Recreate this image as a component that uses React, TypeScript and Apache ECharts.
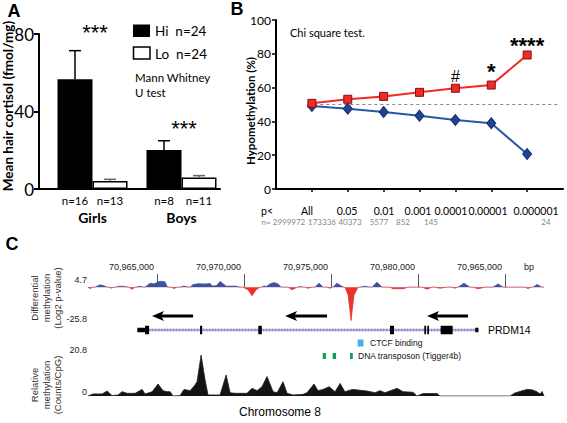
import React, { useEffect, useRef } from "react";
import * as echarts from "echarts";

// ---------------- Panel A data ----------------
const groups = ["Girls", "Boys"];
const hiMean = [56.6, 20.1];
const hiUpper = [71.4, 24.9];
const loMean = [4.1, 6.0];
const loUpper = [5.0, 6.9];
const hiN = ["n=16", "n=8"];
const loN = ["n=13", "n=11"];
const legendLabels = ["Hi  n=24", "Lo  n=24"];
const aSig = ["***", "***"];
const aTest = "Mann Whitney\nU test";
const aYTitle = "Mean hair cortisol (fmol/mg)";

// ---------------- Panel B data ----------------
const pThresholds = ["All", "0.05", "0.01", "0.001", "0.0001", "0.00001", "0.000001"];
const nCounts = ["2999972", "173336", "40373", "5577", "852", "145", "24"];
const hypoUp = [50.7, 53.1, 54.8, 57.2, 59.6, 61.5, 79.3];
const hypoDown = [49.1, 47.5, 45.6, 43.4, 40.8, 38.9, 20.7];
const sigMarks = ["", "", "", "", "#", "*", "****"];
const chanceLine: [number, number][] = [[0.9, 50], [7.9, 50]];
const bYTitle = "Hypomethylation (%)";
const bTest = "Chi square test.";

// ---------------- Panel C data (x in kb after 70,960,000) ----------------
const trackStart = 1.03;
const trackEnd = 27.24;
const coordTicks = [5, 10, 15, 20, 25];
const coordLabels = ["70,965,000", "70,970,000", "70,975,000", "70,980,000", "70,965,000"];
const diffLimits = [-25.8, 4.7];
const relLimits = [0, 20.8];
const diffTrack: [number, number][] = [
  [1.03, 0], [1.15, -1.0], [1.32, 0],
  [1.44, 0], [1.72, 1.8], [1.95, 1.0], [2.13, 0],
  [2.24, 0], [2.36, -0.8], [2.53, 0],
  [2.59, 0], [2.87, 0.7], [3.1, 0.6], [3.33, 0],
  [3.39, 0], [3.56, -1.5], [3.74, 0],
  [3.79, 0], [4.02, 0.7], [4.2, 0],
  [4.31, 0], [4.6, 3.0], [4.83, 2.5], [5.06, 4.0], [5.23, 4.6], [5.46, 4.0], [5.57, 0.5], [5.63, 0],
  [5.8, 0], [5.98, -1.0], [6.15, 0],
  [6.32, 0], [6.55, 0.8], [6.78, 0],
  [6.9, 0], [7.07, 2.0], [7.36, 2.6], [7.76, 2.4], [8.05, 2.8], [8.16, 1.0], [8.28, 0.8],
  [8.45, 1.5], [8.62, 4.4], [8.85, 2.0], [8.97, 0.7], [9.48, 0.8], [9.77, 0],
  [9.94, 0], [10.23, -2.0], [10.46, -6.6], [10.69, -2.0], [10.92, 0],
  [11.03, 0], [11.15, 1.0], [11.26, 0.3], [11.49, 2.5], [11.72, 3.5], [11.95, 2.5], [12.13, 0],
  [12.53, 0], [12.76, -2.0], [13.05, 0],
  [13.1, 0], [13.22, 0.5], [13.39, 0],
  [13.51, 0], [13.68, -0.8], [13.91, 0],
  [14.08, 0], [14.31, 3.0], [14.54, 0],
  [14.77, 0], [14.94, -0.8], [15.06, 0],
  [15.11, 0], [15.34, 3.0], [15.63, 0.5], [15.75, 0],
  [15.8, 0], [15.98, -6.0], [16.09, -18.0], [16.15, -25.5], [16.21, -18.0], [16.32, -6.0], [16.55, 0],
  [16.67, 0], [16.95, 0.7], [17.24, 0],
  [17.36, 0], [17.64, 3.8], [17.93, 0],
  [18.39, 0], [18.56, -1.2], [19.2, -1.2], [19.37, 0],
  [20.23, 0], [20.52, -1.5], [20.8, 0],
  [20.98, 0], [21.26, -0.8], [21.67, 0],
  [21.95, 0], [22.13, -0.8], [22.24, 0],
  [22.3, 0], [22.64, 3.0], [22.99, 0],
  [23.16, 0], [23.45, -1.2], [23.85, 0],
  [24.31, 0], [24.6, 2.5], [24.89, 0],
  [26.15, 0], [26.32, -1.0], [26.49, 0],
  [26.61, 0], [26.84, 2.0], [27.13, 0], [27.24, 0],
];
const relTrack: [number, number][] = [
  [1.03, 0], [1.32, 1.0], [1.84, 1.0], [2.13, 2.4], [2.41, 0.2], [2.76, 0.5], [2.99, 2.1],
  [3.28, 1.3], [3.74, 1.3], [4.14, 3.2], [4.31, 1.0], [4.71, 2.0], [5.06, 5.8], [5.34, 2.6],
  [5.57, 2.1], [5.75, 2.1], [5.92, 0], [6.32, 0.2], [6.55, 3.2], [6.9, 2.6], [7.18, 5.3],
  [7.3, 7.0], [7.53, 19.8], [7.76, 7.7], [7.93, 0.5], [8.62, 0.5], [8.97, 10.2], [9.2, 1.6],
  [9.48, 1.3], [10.17, 1.3], [10.46, 3.7], [10.75, 2.6], [11.03, 4.5], [11.32, 9.4],
  [11.67, 2.1], [11.9, 1.6], [12.24, 6.9], [12.47, 1.3], [12.82, 0.5], [13.39, 0.8],
  [13.62, 1.6], [14.02, 5.8], [14.25, 2.6], [14.54, 3.2], [14.89, 4.5], [15.23, 2.1],
  [15.52, 6.1], [15.8, 2.0], [15.98, 2.6], [16.26, 3.2], [17.07, 2.4], [17.53, 1.6],
  [17.82, 2.6], [18.1, 1.6], [18.79, 3.7], [19.14, 2.1], [19.71, 1.8], [19.94, 0],
  [20.29, 1.2], [21.09, 1.2], [21.26, 0], [25.29, 0], [25.57, 1.5], [25.98, 2.5],
  [26.26, 3.2], [26.55, 3.0], [26.84, 2.0], [27.01, 1.0], [27.13, 2.2], [27.24, 0],
];
const geneSpan = [3.87, 23.47];
const utrBlocks = [[3.87, 4.31], [23.29, 23.47]];
const cdsBlocks = [[4.31, 4.54], [7.47, 7.59], [10.82, 11.02], [18.39, 18.62], [20.36, 20.46], [20.53, 20.63], [21.3, 21.99]];
const arrowSpans = [[4.71, 7.07], [12.36, 14.77], [20.52, 22.87]];
const ctcfSites = [[16.53, 16.86]];
const transposons = [[14.52, 14.71], [15.09, 15.29], [16.09, 16.25]];
const geneName = "PRDM14";
const ctcfLabel = "CTCF binding";
const tposLabel = "DNA transposon (Tigger4b)";
const diffTitle = "Differential\nmethylation\n(Log2 p-value)";
const relTitle = "Relative\nmethylation\n(Counts/CpG)";
const chromLabel = "Chromosome 8";

const FA = "Lato, 'Noto Sans', sans-serif";
const FC = "'Liberation Sans', Arial, sans-serif";

// annotation rows (px below annotation grid top)
const ROW_ARROW = 11;
const ROW_GENE = 25;
const ROW_CTCF = 38;
const ROW_TPOS = 51;

function txt(x: number, y: number, text: string, st: any = {}, extra: any = {}) {
  return {
    type: "text",
    x,
    y,
    silent: true,
    ...extra,
    style: {
      text,
      fill: "#000",
      fontFamily: FA,
      fontSize: 12,
      align: "left",
      verticalAlign: "middle",
      ...st,
    },
  };
}

const fmtNum = (v: number) => (v < 0 ? "\u2212" + String(Math.abs(v)) : String(v)).replace("\u2212", "-");

function baseGraphic(): any[] {
  const pRowX = [307, 347, 384, 418, 451, 488, 536];
  const nRowX = [289, 322, 350, 379, 403, 431, 546];
  return [
    txt(14, 11, "A", { fontFamily: FC, fontWeight: "bold", fontSize: 18, align: "center" }),
    txt(237, 9, "B", { fontFamily: FC, fontWeight: "bold", fontSize: 18, align: "center" }),
    txt(12, 244, "C", { fontFamily: FC, fontWeight: "bold", fontSize: 18, align: "center" }),
    txt(8, 106, aYTitle, { fontWeight: "bold", fontSize: 13.5, align: "center" }, { rotation: Math.PI / 2 }),
    txt(95, 21, aSig[0], { fontFamily: FC, fontSize: 22, align: "center", verticalAlign: "top" }),
    txt(184, 117, aSig[1], { fontFamily: FC, fontSize: 22, align: "center", verticalAlign: "top" }),
    { type: "rect", shape: { x: 133, y: 24.5, width: 17, height: 12.5 }, style: { fill: "#000" }, silent: true },
    { type: "rect", shape: { x: 133.5, y: 47, width: 16.5, height: 12 }, style: { fill: "#fff", stroke: "#000", lineWidth: 1.5 }, silent: true },
    txt(155, 31, legendLabels[0], { fontSize: 13.5 }),
    txt(155, 54, legendLabels[1], { fontSize: 13.5 }),
    txt(135, 84.5, aTest, { fontSize: 11.5, lineHeight: 15 }),
    txt(250, 111, bYTitle, { fontWeight: "bold", fontSize: 11.5, align: "center" }, { rotation: Math.PI / 2 }),
    txt(290, 32, bTest, { fontSize: 11 }),
    txt(267, 211, "p<", { fontSize: 10.5, align: "center" }),
    txt(266, 222, "n=", { fontSize: 8, align: "center", fill: "#888" }),
    ...pThresholds.map((t, i) => txt(pRowX[i], 211, t, { fontSize: 10.5, align: "center" })),
    ...nCounts.map((t, i) => txt(nRowX[i], 222, t, { fontSize: 8, align: "center", fill: "#888" })),
    txt(46, 298, diffTitle, { fontFamily: FC, fontSize: 9.5, lineHeight: 11.5, align: "center", fill: "#333" }, { rotation: Math.PI / 2 }),
    txt(46, 385, relTitle, { fontFamily: FC, fontSize: 9.5, lineHeight: 11.5, align: "center", fill: "#333" }, { rotation: Math.PI / 2 }),
    txt(524, 267, "bp", { fontFamily: FC, fontSize: 9, fill: "#222" }),
    txt(488, 330, geneName, { fontFamily: FC, fontSize: 10.5 }),
    txt(370, 343, ctcfLabel, { fontFamily: FC, fontSize: 8.5, fill: "#111" }),
    txt(358, 356, tposLabel, { fontFamily: FC, fontSize: 8.5, fill: "#111" }),
    txt(280, 412, chromLabel, { fontFamily: FC, fontSize: 12, align: "center" }),
  ];
}

function buildOption(): any {
  const hidden = { show: false };
  const noSplit = { show: false };
  const blackLine = { show: true, lineStyle: { color: "#000", width: 2 } };

  const trackX = (gi: number, extra: any = {}) => ({
    gridIndex: gi,
    type: "value",
    min: trackStart,
    max: trackEnd,
    axisLine: hidden,
    axisTick: hidden,
    axisLabel: hidden,
    splitLine: noSplit,
    ...extra,
  });

  return {
    animation: false,
    textStyle: { fontFamily: FA },
    graphic: baseGraphic(),
    grid: [
      { left: 39, top: 34, width: 181, height: 155 },
      { left: 48, top: 34, width: 178, height: 155 },
      { left: 276, top: 20, width: 287, height: 169 },
      { left: 88, top: 281, width: 456, height: 40 },
      { left: 88, top: 305, width: 456, height: 60 },
      { left: 88, top: 353, width: 456, height: 43 },
    ],
    xAxis: [
      { gridIndex: 0, type: "value", min: 0, max: 1, axisLine: blackLine, axisTick: hidden, axisLabel: hidden, splitLine: noSplit },
      {
        gridIndex: 1,
        type: "category",
        data: groups,
        axisLine: hidden,
        axisTick: hidden,
        axisLabel: { show: true, margin: 21, fontWeight: "bold", fontSize: 14, color: "#000", fontFamily: FA },
      },
      {
        gridIndex: 2,
        type: "value",
        min: 0,
        max: 8,
        axisLine: blackLine,
        axisTick: { show: true, customValues: [1, 2, 3, 4, 5, 6, 7], length: 3, lineStyle: { color: "#000", width: 1.5 } },
        axisLabel: hidden,
        splitLine: noSplit,
      },
      trackX(3, {
        position: "top",
        offset: 7,
        axisTick: { show: true, customValues: coordTicks, length: 13, lineStyle: { color: "#555", width: 1 } },
        axisLabel: {
          show: true,
          customValues: coordTicks,
          formatter: (v: number) => coordLabels[coordTicks.indexOf(v)] ?? "",
          align: "right",
          verticalAlign: "middle",
          margin: 7,
          padding: [0, 3, 0, 0],
          fontSize: 9,
          color: "#222",
          fontFamily: FC,
        },
      }),
      trackX(4),
      trackX(5),
    ],
    yAxis: [
      {
        gridIndex: 0,
        type: "value",
        min: 0,
        max: 80,
        interval: 40,
        axisLine: blackLine,
        axisTick: { show: true, length: 5, lineStyle: { color: "#000", width: 2 } },
        axisLabel: { fontSize: 17, color: "#000", margin: 5, fontFamily: FA },
        splitLine: noSplit,
      },
      { gridIndex: 1, type: "value", min: 0, max: 80, show: false, splitLine: noSplit },
      {
        gridIndex: 2,
        type: "value",
        min: 0,
        max: 100,
        interval: 20,
        axisLine: blackLine,
        axisTick: { show: true, length: 4, lineStyle: { color: "#000", width: 1.5 } },
        axisLabel: { fontSize: 12, color: "#000", margin: 5, fontFamily: FA },
        splitLine: noSplit,
      },
      { gridIndex: 3, type: "value", min: diffLimits[0], max: diffLimits[1], show: false, splitLine: noSplit },
      { gridIndex: 4, type: "value", min: 0, max: 60, inverse: true, show: false, splitLine: noSplit },
      { gridIndex: 5, type: "value", min: relLimits[0], max: relLimits[1], show: false, splitLine: noSplit },
    ],
    visualMap: [
      {
        type: "piecewise",
        show: false,
        seriesIndex: 6,
        dimension: 1,
        pieces: [
          { gt: -100, lte: 0, color: "#e8322d" },
          { gt: 0, lte: 100, color: "#3454a8" },
        ],
        outOfRange: { color: "#999" },
      },
    ],
    series: [
      {
        type: "bar",
        xAxisIndex: 1,
        yAxisIndex: 1,
        data: hiMean,
        barWidth: 35,
        barGap: "0%",
        itemStyle: { color: "#000" },
        label: { show: true, position: "bottom", distance: 5, formatter: (p: any) => hiN[p.dataIndex], fontSize: 11.5, color: "#000", fontFamily: FA },
      },
      {
        type: "bar",
        xAxisIndex: 1,
        yAxisIndex: 1,
        data: loMean,
        barWidth: 35,
        barGap: "0%",
        itemStyle: { color: "#fff", borderColor: "#000", borderWidth: 1.5 },
        label: { show: true, position: "bottom", distance: 5, formatter: (p: any) => loN[p.dataIndex], fontSize: 11.5, color: "#000", fontFamily: FA },
      },
      {
        type: "custom",
        xAxisIndex: 1,
        yAxisIndex: 1,
        z: 3,
        data: [...hiMean.map((m, i) => [i, m, hiUpper[i], 0]), ...loMean.map((m, i) => [i, m, loUpper[i], 1])],
        encode: { x: 0, y: [1, 2] },
        renderItem: (params: any, api: any) => {
          const cat = api.value(0);
          const kind = api.value(3);
          const off = (kind === 0 ? -1 : 1) * 17.5;
          const b = api.coord([cat, api.value(1)]);
          const t = api.coord([cat, api.value(2)]);
          const x = b[0] + off;
          const col = kind === 0 ? "#000" : "#666";
          return {
            type: "group",
            children: [
              { type: "line", shape: { x1: x, y1: b[1], x2: x, y2: t[1] }, style: { stroke: col, lineWidth: 1.5 } },
              { type: "line", shape: { x1: x - 6, y1: t[1], x2: x + 6, y2: t[1] }, style: { stroke: col, lineWidth: 1.5 } },
            ],
          };
        },
      },
      {
        type: "line",
        xAxisIndex: 2,
        yAxisIndex: 2,
        z: 2,
        data: chanceLine,
        symbol: "none",
        lineStyle: { color: "#888", type: [3, 3], width: 1 },
      },
      {
        type: "line",
        xAxisIndex: 2,
        yAxisIndex: 2,
        z: 3,
        data: hypoDown.map((v, i) => [i + 1, v]),
        symbol: "diamond",
        symbolSize: [9, 11],
        lineStyle: { color: "#2a57a8", width: 2 },
        itemStyle: { color: "#1d4592", borderColor: "#0e2d6b", borderWidth: 1 },
      },
      {
        type: "line",
        xAxisIndex: 2,
        yAxisIndex: 2,
        z: 4,
        data: hypoUp.map((v, i) => {
          const m = sigMarks[i];
          return {
            value: [i + 1, v],
            label: m
              ? {
                  show: true,
                  formatter: m,
                  position: "top",
                  distance: 3,
                  fontFamily: FC,
                  color: "#000",
                  fontSize: m === "#" ? 16 : 22,
                  fontWeight: m === "#" ? "normal" : "bold",
                  offset: [0, m === "#" ? 4 : m === "*" ? 5 : 9],
                }
              : { show: false },
          };
        }),
        symbol: "rect",
        symbolSize: 8,
        lineStyle: { color: "#ee2b25", width: 2 },
        itemStyle: { color: "#ee2b25", borderColor: "#8a0f0c", borderWidth: 1 },
      },
      {
        type: "line",
        xAxisIndex: 3,
        yAxisIndex: 3,
        data: diffTrack,
        symbol: "none",
        smooth: false,
        lineStyle: { width: 0.8 },
        areaStyle: { opacity: 1 },
      },
      {
        type: "custom",
        xAxisIndex: 4,
        yAxisIndex: 4,
        data: arrowSpans,
        encode: { x: [0, 1] },
        renderItem: (params: any, api: any) => {
          const s = api.coord([api.value(0), ROW_ARROW]);
          const e = api.coord([api.value(1), ROW_ARROW]);
          return {
            type: "group",
            children: [
              { type: "rect", shape: { x: s[0] + 8, y: s[1] - 1.6, width: e[0] - s[0] - 8, height: 3.2 }, style: { fill: "#000" } },
              { type: "polygon", shape: { points: [[s[0], s[1]], [s[0] + 12, s[1] - 5], [s[0] + 9, s[1]], [s[0] + 12, s[1] + 5]] }, style: { fill: "#000" } },
            ],
          };
        },
      },
      {
        type: "custom",
        xAxisIndex: 4,
        yAxisIndex: 4,
        data: [geneSpan],
        encode: { x: [0, 1] },
        renderItem: (params: any, api: any) => {
          const s = api.coord([api.value(0), ROW_GENE]);
          const e = api.coord([api.value(1), ROW_GENE]);
          return {
            type: "group",
            children: [
              { type: "line", shape: { x1: s[0], y1: s[1], x2: e[0], y2: e[1] }, style: { stroke: "#b4b4e0", lineWidth: 2.5 } },
              { type: "line", shape: { x1: s[0], y1: s[1], x2: e[0], y2: e[1] }, style: { stroke: "#6f6fb8", lineWidth: 2.5, lineDash: [0.8, 2.2] } },
            ],
          };
        },
      },
      {
        type: "custom",
        xAxisIndex: 4,
        yAxisIndex: 4,
        z: 3,
        data: [...utrBlocks.map((b) => [b[0], b[1], 0]), ...cdsBlocks.map((b) => [b[0], b[1], 1])],
        encode: { x: [0, 1] },
        renderItem: (params: any, api: any) => {
          const s = api.coord([api.value(0), ROW_GENE]);
          const e = api.coord([api.value(1), ROW_GENE]);
          const h = api.value(2) === 1 ? 8.5 : 4.5;
          return { type: "rect", shape: { x: s[0], y: s[1] - h / 2, width: Math.max(e[0] - s[0], 1.6), height: h }, style: { fill: "#000" } };
        },
      },
      {
        type: "custom",
        xAxisIndex: 4,
        yAxisIndex: 4,
        data: [...ctcfSites.map((b) => [b[0], b[1], 0]), ...transposons.map((b) => [b[0], b[1], 1])],
        encode: { x: [0, 1] },
        renderItem: (params: any, api: any) => {
          const kind = api.value(2);
          const row = kind === 0 ? ROW_CTCF : ROW_TPOS;
          const s = api.coord([api.value(0), row]);
          const e = api.coord([api.value(1), row]);
          const h = kind === 0 ? 7 : 6;
          return {
            type: "rect",
            shape: { x: s[0], y: s[1] - h / 2, width: e[0] - s[0], height: h },
            style: { fill: kind === 0 ? "#3bb2ea" : "#11a24c" },
          };
        },
      },
      {
        type: "line",
        xAxisIndex: 5,
        yAxisIndex: 5,
        data: relTrack,
        symbol: "none",
        smooth: false,
        lineStyle: { color: "#222", width: 0.8 },
        areaStyle: { color: "#141414", opacity: 1 },
      },
    ],
  };
}

export default function App() {
  const ref = useRef<HTMLDivElement>(null);
  useEffect(() => {
    if (!ref.current) return;
    const chart = echarts.init(ref.current, null, { renderer: "svg" });
    chart.setOption(buildOption());
    // scale labels of the two tracks, placed through the tracks' own y scales
    const limStyle = { fontFamily: FC, fontSize: 9, fill: "#222", align: "right" };
    const lims: any[] = [
      ...diffLimits.map((v, i) => {
        const y = chart.convertToPixel({ yAxisIndex: 3 }, v) as number;
        return txt(87, y - (i === 0 ? 2 : 1), fmtNum(v), limStyle);
      }),
      ...relLimits.map((v, i) => {
        const y = chart.convertToPixel({ yAxisIndex: 5 }, v) as number;
        return txt(87, y - (i === 0 ? 4 : 3), fmtNum(v), limStyle);
      }),
    ];
    chart.setOption({ graphic: [...baseGraphic(), ...lims] });
    return () => chart.dispose();
  }, []);
  return <div ref={ref} style={{ position: "absolute", left: 0, top: 0, width: 567, height: 423, background: "#fff" }} />;
}
